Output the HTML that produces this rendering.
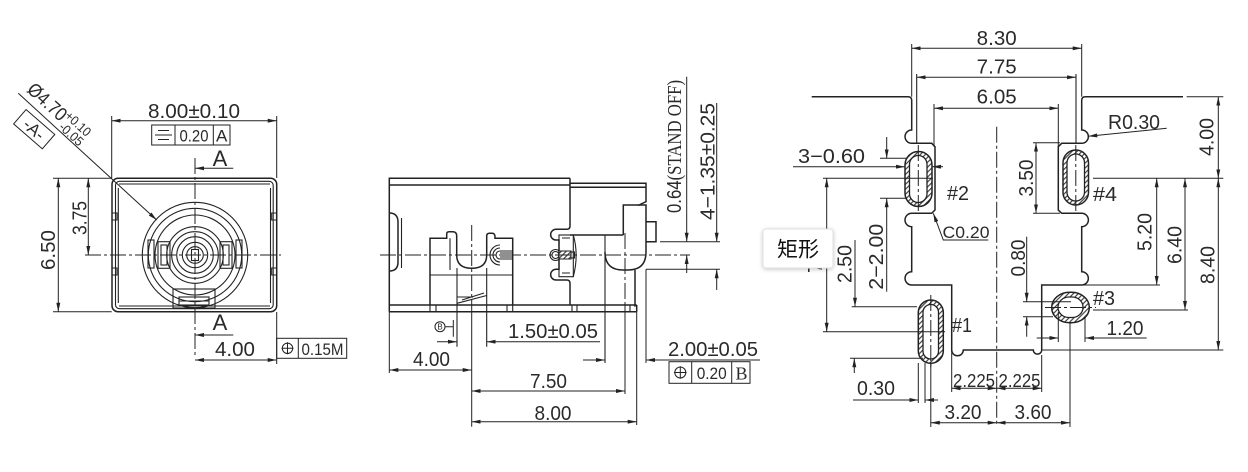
<!DOCTYPE html>
<html><head><meta charset="utf-8">
<style>
html,body{margin:0;padding:0;background:#fff;width:1248px;height:472px;overflow:hidden}
svg{display:block}
.o{fill:none;stroke:#222;stroke-width:1.5}
.t{fill:none;stroke:#222;stroke-width:1.1}
.d{fill:none;stroke:#222;stroke-width:1}
.c{fill:none;stroke:#222;stroke-width:1;stroke-dasharray:16 3 3 3}
text{font-family:"Liberation Sans",sans-serif;fill:#2a2a2a}
.s{font-family:"Liberation Serif",serif}
</style></head><body>
<svg width="1248" height="472" viewBox="0 0 1248 472" xmlns="http://www.w3.org/2000/svg" font-size="20" text-anchor="middle">
<defs>
<marker id="a" viewBox="0 0 9 4" refX="9" refY="2" markerWidth="9" markerHeight="4" markerUnits="userSpaceOnUse" orient="auto-start-reverse"><path d="M0,0 L9,2 L0,4z" fill="#222"/></marker>
<pattern id="h" width="3.5" height="3.5" patternUnits="userSpaceOnUse" patternTransform="rotate(45)"><rect width="3.5" height="3.5" fill="#fff"/><line x1="0.6" y1="0" x2="0.6" y2="3.5" stroke="#333" stroke-width="1.1"/></pattern>
<filter id="sh" x="-20%" y="-20%" width="140%" height="160%"><feDropShadow dx="0" dy="1" stdDeviation="2" flood-color="#000" flood-opacity="0.22"/></filter>
</defs>
<rect width="1248" height="472" fill="#fff"/>

<!-- ================= LEFT VIEW ================= -->
<rect class="o" x="112" y="178.3" width="164.7" height="133.4" rx="6"/>
<rect class="t" x="115.5" y="181.3" width="157.7" height="127.4" rx="4"/>
<path class="t" d="M118.3,188 V303 M270.5,188 V303 M119,184 H270 M119,306 H270"/>
<path class="t" d="M112,213 H117 V220 H112 M112,268 H117 V275 H112 M276.7,213 H271.7 V220 H276.7 M276.7,268 H271.7 V275 H276.7"/>
<circle class="t" cx="195" cy="255" r="52.7"/>
<circle class="t" cx="195" cy="255" r="46.7"/>
<circle class="t" cx="195" cy="255" r="40"/>
<circle class="t" cx="195" cy="255" r="28.3"/>
<circle class="t" cx="195" cy="255" r="23.3"/>
<circle class="t" cx="195" cy="255" r="18.3"/>
<circle class="t" cx="195" cy="255" r="12.7"/>
<circle class="t" cx="195" cy="255" r="8.3"/>
<rect class="t" x="191.5" y="249.5" width="7" height="11"/>
<rect class="t" x="158" y="241.7" width="12" height="26.6" fill="#fff"/>
<rect class="t" x="161" y="245" width="6" height="20"/>
<rect class="t" x="220" y="241.7" width="12" height="26.6" fill="#fff"/>
<rect class="t" x="223" y="245" width="6" height="20"/>
<rect class="t" x="148" y="240" width="6" height="28" fill="#fff"/>
<rect class="t" x="236" y="240" width="6" height="28" fill="#fff"/>
<rect class="t" x="173" y="289" width="42" height="19" fill="#fff"/>
<rect class="t" x="179" y="297" width="30" height="8"/>
<path class="t" d="M179,301 H209"/>
<path class="c" d="M195,158 V358"/>
<path class="c" d="M85,255 H281"/>
<path class="d" d="M111.7,116 V178 M276.7,116 V178 M276.7,312 V364"/>
<line class="d" x1="111.7" y1="120.7" x2="276.7" y2="120.7" marker-start="url(#a)" marker-end="url(#a)"/>
<text x="194" y="118" textLength="92" lengthAdjust="spacingAndGlyphs">8.00±0.10</text>
<rect class="d" x="151.7" y="125" width="78.3" height="20"/>
<path class="d" d="M175,125 V145 M213.3,125 V145 M158,130.5 H169 M155,135 H172 M158,139.5 H169"/>
<text x="194" y="141.5" font-size="17" textLength="29" lengthAdjust="spacingAndGlyphs">0.20</text>
<text x="221.7" y="141.5" font-size="17">A</text>
<text x="220" y="166" font-size="22">A</text>
<path class="d" d="M233.3,168.3 H195" marker-end="url(#a)"/>
<text x="220" y="330" font-size="22">A</text>
<path class="d" d="M233.3,335 H195" marker-end="url(#a)"/>
<text x="235" y="356" textLength="40" lengthAdjust="spacingAndGlyphs">4.00</text>
<line class="d" x1="195" y1="360" x2="276.7" y2="360" marker-start="url(#a)" marker-end="url(#a)"/>
<rect class="d" x="276.7" y="338.3" width="70" height="20"/>
<path class="d" d="M298.3,338.3 V358.3 M281.5,348.3 H293.5 M287.5,342.3 V354.3"/>
<circle class="d" cx="287.5" cy="348.3" r="5.2"/>
<text x="322.5" y="355" font-size="17" textLength="42" lengthAdjust="spacingAndGlyphs">0.15M</text>
<path class="d" d="M53,178.3 H111.7 M53,311.7 H111.7"/>
<line class="d" x1="58.3" y1="178.3" x2="58.3" y2="311.7" marker-start="url(#a)" marker-end="url(#a)"/>
<text transform="translate(55,250) rotate(-90)" textLength="40" lengthAdjust="spacingAndGlyphs">6.50</text>
<line class="d" x1="88.3" y1="178.3" x2="88.3" y2="255" marker-start="url(#a)" marker-end="url(#a)"/>
<text transform="translate(86.5,218) rotate(-90)" textLength="34" lengthAdjust="spacingAndGlyphs">3.75</text>
<path class="d" d="M18.3,93.3 L156.7,220" marker-end="url(#a)"/>
<text text-anchor="start" transform="translate(26,91) rotate(42.5)" font-size="19" textLength="46" lengthAdjust="spacingAndGlyphs">Ø4.70</text>
<text text-anchor="start" transform="translate(64,117) rotate(42.5)" font-size="13" textLength="30" lengthAdjust="spacingAndGlyphs">+0.10</text>
<text text-anchor="start" transform="translate(58,128) rotate(42.5)" font-size="13" textLength="28" lengthAdjust="spacingAndGlyphs">-0.05</text>
<g transform="translate(34.2,129.2) rotate(41)">
<rect class="d" x="-19" y="-9.5" width="38" height="19"/>
<text x="0" y="6" font-size="17">-A-</text>
</g>

<!-- ================= MIDDLE VIEW ================= -->
<path class="o" d="M389.3,311.7 V178.3 H570 M389.3,185 H570 M570,187.3 H646"/>
<path class="o" d="M570,178.3 V183.3 H646 V201.7 L638,205.5"/>
<path class="o" d="M623.3,235 V205 H646 V252 Q646,270 628,270 H623 Q605,270 605,252"/>
<path class="o" d="M570,235 H623.3"/>
<path class="o" d="M646,221.7 H656 V241.7 H646"/>
<path class="t" d="M605,235 V363"/>
<path class="o" d="M635,270 V306.7"/>
<path class="o" d="M570,183.3 V226 Q570,229.3 566.7,229.3 H556 A5.35,5.35 0 0 0 556,240 H559 V269.3 H556 A5.35,5.35 0 0 0 556,280 H566.7 Q570,280 570,283.3 V305"/>
<rect class="t" x="559" y="235" width="14.3" height="41.7"/>
<path class="t" d="M573.3,235 Q579,255 573.3,276.7 M562,238 H570 M562,273 H570"/>
<circle class="t" cx="555.5" cy="255" r="3.5"/>
<circle class="t" cx="555.5" cy="255" r="5.5"/>
<rect x="559" y="251" width="12" height="8" fill="url(#h)" stroke="#222" stroke-width="1"/>
<rect class="t" x="571" y="252" width="3.5" height="6"/>
<path class="o" d="M389.3,213 Q398,213 398,222 V262 Q398,271 389.3,271"/>
<path class="t" d="M401.5,218 V268"/>
<path class="o" d="M389.3,305 H636.7 M389.3,311.7 H636.7 M636.7,305 V311.7"/>
<path class="t" d="M430,305 V311.7 M436,305 V311.7 M507,305 V311.7 M512.7,305 V311.7 M572,305 V311.7 M577,305 V311.7 M630,305 V311.7"/>
<path class="o" d="M430,305 V238.3 H446.7 V234 Q446.7,231.7 449,231.7 H453 Q456.7,231.7 456.7,236 V255 Q456.7,268.3 471.7,268.3 Q486.7,268.3 486.7,255 V236 Q486.7,233.3 489.5,233.3 H492 Q495,233.3 495,237 V238.3 H512.7 V305"/>
<path class="t" d="M450,238.3 V270 M430,275 H512.7 M457,268 V346.7 M486.7,268 V346.7"/>
<path class="t" d="M457,303.3 L486.7,295.5 M457,297 L473,297 M462,300 L484,293"/>
<path class="t" d="M500,245 A10,10 0 0 0 500,265 M500,248 A7,7 0 0 0 500,262 M500,251 A4,4 0 0 0 500,259"/>
<path class="t" d="M500,251 H512 M500,253 H512 M500,255 H512 M500,257 H512 M500,259 H512"/>
<path class="c" d="M380,255 H690"/>
<path class="c" d="M471.7,225 V305"/>
<path class="d" d="M471.7,305 V426.7"/>
<path class="c" d="M625,233 V305"/>
<path class="d" d="M625,305 V394"/>
<circle class="d" cx="440" cy="326.7" r="5"/>
<text x="440" y="329.7" font-size="8">B</text>
<path class="d" d="M445,326.7 H453.3 M453.3,320 V336.7"/>
<path class="d" d="M437,341.7 H457" marker-end="url(#a)"/>
<path class="d" d="M600,341.7 H486.7" marker-end="url(#a)"/>
<text x="553" y="338" textLength="90" lengthAdjust="spacingAndGlyphs">1.50±0.05</text>
<path class="d" d="M583,360 H605" marker-end="url(#a)"/>
<path class="d" d="M646,269.3 V363"/>
<path class="d" d="M760,360 H646" marker-end="url(#a)"/>
<text x="713" y="356" textLength="90" lengthAdjust="spacingAndGlyphs">2.00±0.05</text>
<rect class="d" x="669" y="361.7" width="81" height="21.6"/>
<path class="d" d="M691.7,361.7 V383.3 M731.7,361.7 V383.3 M674,372.5 H686.6 M680.3,366.2 V378.8"/>
<circle class="d" cx="680.3" cy="372.5" r="5.5"/>
<text x="711.7" y="379" font-size="17" textLength="30" lengthAdjust="spacingAndGlyphs">0.20</text>
<text x="741.5" y="379.5" font-size="18" class="s">B</text>
<path class="d" d="M389.3,311.7 V373"/>
<line class="d" x1="389.3" y1="370" x2="471.7" y2="370" marker-start="url(#a)" marker-end="url(#a)"/>
<text x="431.5" y="366" textLength="37" lengthAdjust="spacingAndGlyphs">4.00</text>
<line class="d" x1="471.7" y1="391" x2="625" y2="391" marker-start="url(#a)" marker-end="url(#a)"/>
<text x="548.5" y="388" textLength="37" lengthAdjust="spacingAndGlyphs">7.50</text>
<path class="d" d="M636.7,311.7 V425"/>
<line class="d" x1="471.7" y1="421.7" x2="636.7" y2="421.7" marker-start="url(#a)" marker-end="url(#a)"/>
<text x="553" y="420" textLength="37" lengthAdjust="spacingAndGlyphs">8.00</text>
<path class="d" d="M686.7,76.7 V241.7" marker-end="url(#a)"/>
<path class="d" d="M686.7,273 V255" marker-end="url(#a)"/>
<path class="d" d="M716.7,103 V241.7" marker-end="url(#a)"/>
<path class="d" d="M716.7,290 V269.3" marker-end="url(#a)"/>
<path class="d" d="M660,241.7 H720 M646,269.3 H720"/>
<text transform="translate(681,146.5) rotate(-90)" textLength="133" lengthAdjust="spacingAndGlyphs">0.64<tspan class="s">(STAND OFF)</tspan></text>
<text transform="translate(714.5,161.5) rotate(-90)" textLength="117" lengthAdjust="spacingAndGlyphs">4−1.35±0.25</text>

<!-- ================= RIGHT VIEW ================= -->
<path class="o" d="M811.7,96.7 H908 Q911.7,96.7 911.7,100.4 V130 A6.65,6.65 0 0 0 911.7,143.3 H931.7 L935,146.7 V210 L931.7,213.3 H911.7 A6.65,6.65 0 0 0 911.7,226.7 V271.7 A6.65,6.65 0 0 0 911.7,285 H951.7 V350 A5.8,5.8 0 0 0 963.3,350 H1033.3 A4.2,4.2 0 0 0 1041.7,350 V285 H1081.7 A6.65,6.65 0 0 0 1081.7,271.7 V226.7 A6.65,6.65 0 0 0 1081.7,213.3 H1061.7 L1058.3,210 V146.7 L1061.7,143.3 H1081.7 A6.65,6.65 0 0 0 1081.7,130 V100.4 Q1081.7,96.7 1085.4,96.7 H1183"/>
<path class="t" d="M916.7,74 V143.3 M1076,74 V143.3"/>
<rect x="905" y="151.5" width="27" height="55" rx="13.5" fill="url(#h)" stroke="#222" stroke-width="1.5"/>
<rect x="909.5" y="155.5" width="17.5" height="47" rx="8.75" fill="#fff" stroke="#222" stroke-width="1.3"/>
<rect x="1063" y="150" width="25.5" height="55" rx="12.75" fill="url(#h)" stroke="#222" stroke-width="1.5"/>
<rect x="1067" y="154" width="17.5" height="47" rx="8.75" fill="#fff" stroke="#222" stroke-width="1.3"/>
<rect x="918.3" y="300" width="25" height="63.3" rx="12.5" fill="url(#h)" stroke="#222" stroke-width="1.5"/>
<rect x="923" y="304.5" width="15.5" height="54.5" rx="7.75" fill="#fff" stroke="#222" stroke-width="1.3"/>
<rect x="1051.7" y="292.3" width="37.6" height="30.4" rx="18" ry="15" fill="url(#h)" stroke="#222" stroke-width="1.5"/>
<rect x="1058" y="297" width="25" height="20.5" rx="11" ry="10" fill="#fff" stroke="#222" stroke-width="1.3"/>
<path class="c" d="M918.3,145 V212 M1075.8,145 V212 M930.8,295 V368 M1045,307.5 H1096"/>
<path class="c" d="M996.7,126.7 V426.7"/>
<path class="d" d="M911.7,44 V96.7 M1081.7,44 V96.7"/>
<line class="d" x1="911.7" y1="48.3" x2="1081.7" y2="48.3" marker-start="url(#a)" marker-end="url(#a)"/>
<text x="996.7" y="45" textLength="40" lengthAdjust="spacingAndGlyphs">8.30</text>
<line class="d" x1="916.7" y1="77.3" x2="1076" y2="77.3" marker-start="url(#a)" marker-end="url(#a)"/>
<text x="996.7" y="73.3" textLength="40" lengthAdjust="spacingAndGlyphs">7.75</text>
<path class="d" d="M934,104 V146.7 M1058.3,104 V146.7"/>
<line class="d" x1="934" y1="108.3" x2="1058.3" y2="108.3" marker-start="url(#a)" marker-end="url(#a)"/>
<text x="996.7" y="103.3" textLength="40" lengthAdjust="spacingAndGlyphs">6.05</text>
<path class="d" d="M793,166.7 H905" marker-end="url(#a)"/>
<path class="d" d="M943,166.7 H932" marker-end="url(#a)"/>
<text x="831.5" y="163" textLength="67" lengthAdjust="spacingAndGlyphs">3−0.60</text>
<path class="d" d="M886.7,137 V158.3" marker-end="url(#a)"/>
<path class="d" d="M880,158.3 H907 M823,178.3 H933 M880,198.3 H907"/>
<path class="d" d="M886.7,291.7 V198.3" marker-end="url(#a)"/>
<text transform="translate(883,256.7) rotate(-90)" textLength="66" lengthAdjust="spacingAndGlyphs">2−2.00</text>
<line class="d" x1="826.7" y1="178.3" x2="826.7" y2="331.7" marker-start="url(#a)" marker-end="url(#a)"/>
<text transform="translate(822,254) rotate(-90)" textLength="38" lengthAdjust="spacingAndGlyphs">7.50</text>
<path class="d" d="M855,240 V306.7" marker-end="url(#a)"/>
<path class="d" d="M851.7,306.7 H917 M823,331.7 H945"/>
<text transform="translate(851.5,264) rotate(-90)" textLength="38" lengthAdjust="spacingAndGlyphs">2.50</text>
<path class="d" d="M854.3,373 V358.3" marker-end="url(#a)"/>
<path class="d" d="M850,358.3 H923"/>
<text x="876" y="395" textLength="38" lengthAdjust="spacingAndGlyphs">0.30</text>
<path class="d" d="M853,400 H918.3" marker-end="url(#a)"/>
<path class="d" d="M938,400 H925" marker-end="url(#a)"/>
<path class="d" d="M918.3,363 V403 M925,363 V403 M930.8,363 V427 M1070,323 V427"/>
<line class="d" x1="930.8" y1="422.7" x2="996.7" y2="422.7" marker-start="url(#a)" marker-end="url(#a)"/>
<line class="d" x1="996.7" y1="422.7" x2="1070" y2="422.7" marker-start="url(#a)" marker-end="url(#a)"/>
<text x="963" y="419" textLength="37" lengthAdjust="spacingAndGlyphs">3.20</text>
<text x="1033" y="419" textLength="37" lengthAdjust="spacingAndGlyphs">3.60</text>
<path class="d" d="M951.7,350 V392 M1041.7,355 V392"/>
<line class="d" x1="951.7" y1="388.3" x2="996.7" y2="388.3" marker-start="url(#a)" marker-end="url(#a)"/>
<line class="d" x1="996.7" y1="388.3" x2="1041.7" y2="388.3" marker-start="url(#a)" marker-end="url(#a)"/>
<text x="974" y="387" font-size="18" textLength="42" lengthAdjust="spacingAndGlyphs">2.225</text>
<text x="1019.5" y="387" font-size="18" textLength="42" lengthAdjust="spacingAndGlyphs">2.225</text>
<path class="d" d="M1036.7,338 H1058.3" marker-end="url(#a)"/>
<path class="d" d="M1146.7,338 H1085" marker-end="url(#a)"/>
<path class="d" d="M1058.3,312 V342 M1085,316 V342"/>
<text x="1125" y="335" textLength="37" lengthAdjust="spacingAndGlyphs">1.20</text>
<path class="d" d="M1026.7,236.7 V301.7" marker-end="url(#a)"/>
<path class="d" d="M1026.7,336.7 V316.7" marker-end="url(#a)"/>
<path class="d" d="M1023,301.7 H1071 M1023,316.7 H1053"/>
<text transform="translate(1025,258) rotate(-90)" textLength="37" lengthAdjust="spacingAndGlyphs">0.80</text>
<line class="d" x1="1036" y1="142.7" x2="1036" y2="213.3" marker-start="url(#a)" marker-end="url(#a)"/>
<path class="d" d="M1033,142.7 H1060 M1033,213.3 H1060"/>
<text transform="translate(1033,178) rotate(-90)" textLength="37" lengthAdjust="spacingAndGlyphs">3.50</text>
<path class="d" d="M1093,178.3 H1223.3 M1081.7,285 H1160 M1093,310 H1188 M1041.7,350 H1223.3 M1186.7,96.7 H1223.3"/>
<line class="d" x1="1156.7" y1="178.3" x2="1156.7" y2="285" marker-start="url(#a)" marker-end="url(#a)"/>
<text transform="translate(1151.5,232) rotate(-90)" textLength="38" lengthAdjust="spacingAndGlyphs">5.20</text>
<line class="d" x1="1185" y1="178.3" x2="1185" y2="310" marker-start="url(#a)" marker-end="url(#a)"/>
<text transform="translate(1181.5,245) rotate(-90)" textLength="38" lengthAdjust="spacingAndGlyphs">6.40</text>
<line class="d" x1="1218.3" y1="178.3" x2="1218.3" y2="350" marker-start="url(#a)" marker-end="url(#a)"/>
<text transform="translate(1214.5,265) rotate(-90)" textLength="38" lengthAdjust="spacingAndGlyphs">8.40</text>
<line class="d" x1="1218.3" y1="96.7" x2="1218.3" y2="178.3" marker-start="url(#a)" marker-end="url(#a)"/>
<text transform="translate(1213.5,137) rotate(-90)" textLength="38" lengthAdjust="spacingAndGlyphs">4.00</text>
<path class="d" d="M1166.7,128.3 L1088.3,136.3" marker-end="url(#a)"/>
<text x="1134" y="129" textLength="52" lengthAdjust="spacingAndGlyphs">R0.30</text>
<path class="d" d="M988.3,240 H943.3 L933.3,213.3" marker-end="url(#a)"/>
<text x="966" y="238" font-size="17" textLength="47" lengthAdjust="spacingAndGlyphs">C0.20</text>
<text x="958" y="200" textLength="22" lengthAdjust="spacingAndGlyphs">#2</text>
<text x="1105" y="201" textLength="24" lengthAdjust="spacingAndGlyphs">#4</text>
<text x="962" y="332" textLength="20" lengthAdjust="spacingAndGlyphs">#1</text>
<text x="1104" y="305" textLength="22" lengthAdjust="spacingAndGlyphs">#3</text>

<rect x="763" y="229" width="70" height="39" rx="3" fill="#fff" stroke="#e2e2e2" stroke-width="1" filter="url(#sh)"/>
<text x="798" y="256.5" font-size="21" style="font-family:'Liberation Sans','Noto Sans CJK SC',sans-serif;fill:#111">矩形</text>
</svg>
</body></html>
